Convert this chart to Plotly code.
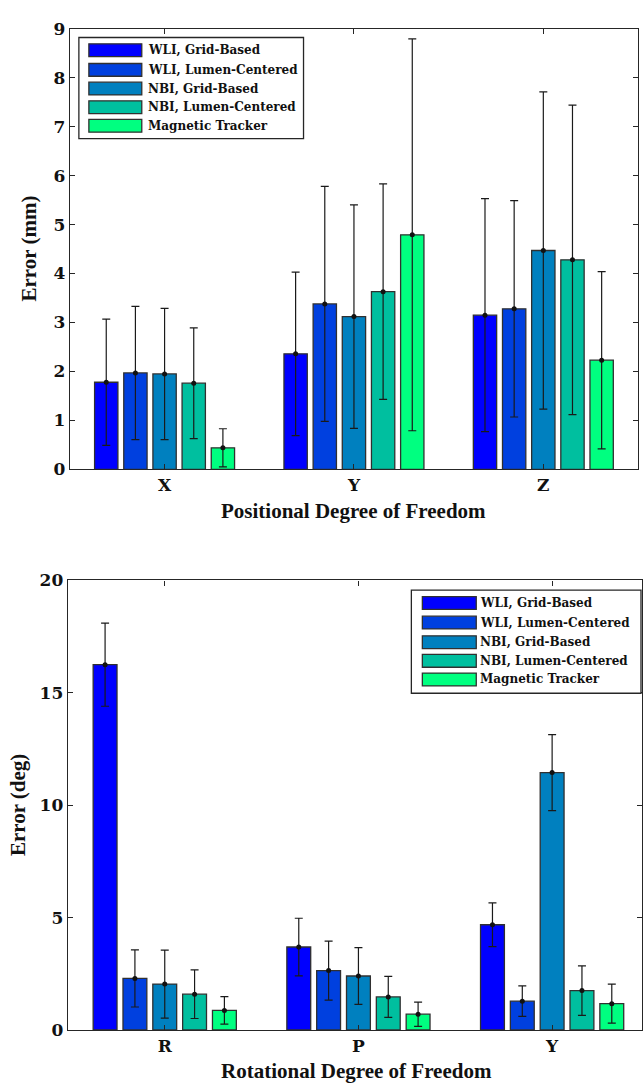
import plotly.graph_objects as go

W, H = 643, 1091

# Series shared by both panels
series = ["WLI, Grid-Based", "WLI, Lumen-Centered", "NBI, Grid-Based",
          "NBI, Lumen-Centered", "Magnetic Tracker"]
colors = ["#0000FF", "#0040DF", "#0080BF", "#00BF9F", "#00FF80"]

# Positional error (mm): mean and standard deviation per degree of freedom
pos_dof = ["X", "Y", "Z"]
pos_wli_grid = [1.78, 2.36, 3.15]
pos_wli_lumen = [1.97, 3.38, 3.28]
pos_nbi_grid = [1.95, 3.12, 4.47]
pos_nbi_lumen = [1.76, 3.63, 4.28]
pos_magnetic = [0.44, 4.79, 2.23]
pos_wli_grid_sd = [1.29, 1.67, 2.38]
pos_wli_lumen_sd = [1.36, 2.40, 2.21]
pos_nbi_grid_sd = [1.34, 2.28, 3.24]
pos_nbi_lumen_sd = [1.13, 2.20, 3.16]
pos_magnetic_sd = [0.39, 4.00, 1.81]

# Rotational error (deg)
rot_dof = ["R", "P", "Y"]
rot_wli_grid = [16.25, 3.69, 4.68]
rot_wli_lumen = [2.29, 2.64, 1.28]
rot_nbi_grid = [2.04, 2.40, 11.45]
rot_nbi_lumen = [1.59, 1.47, 1.75]
rot_magnetic = [0.87, 0.70, 1.17]
rot_wli_grid_sd = [1.85, 1.28, 0.97]
rot_wli_lumen_sd = [1.27, 1.31, 0.68]
rot_nbi_grid_sd = [1.51, 1.26, 1.69]
rot_nbi_lumen_sd = [1.08, 0.91, 1.10]
rot_magnetic_sd = [0.61, 0.54, 0.87]

pos_means = [pos_wli_grid, pos_wli_lumen, pos_nbi_grid, pos_nbi_lumen, pos_magnetic]
pos_sds = [pos_wli_grid_sd, pos_wli_lumen_sd, pos_nbi_grid_sd, pos_nbi_lumen_sd, pos_magnetic_sd]
rot_means = [rot_wli_grid, rot_wli_lumen, rot_nbi_grid, rot_nbi_lumen, rot_magnetic]
rot_sds = [rot_wli_grid_sd, rot_wli_lumen_sd, rot_nbi_grid_sd, rot_nbi_lumen_sd, rot_magnetic_sd]

SERIF = "DejaVu Serif"
TITLE_FONT = "Liberation Serif"
INK = "#262626"
GAP = 0.23

fig = go.Figure()


def add_panel(cats, means, sds, xa, ya):
    for name, col, m in zip(series, colors, means):
        fig.add_trace(go.Bar(
            x=cats, y=m, name=name, xaxis=xa, yaxis=ya, showlegend=False,
            marker=dict(color=col, line=dict(color="#303030", width=1.3)),
            hoverinfo="x+y+name",
        ))
    # mean dots with standard-deviation whiskers, grouped like the bars
    for name, m, s in zip(series, means, sds):
        fig.add_trace(go.Scatter(
            x=cats, y=m, name=name, xaxis=xa, yaxis=ya, showlegend=False,
            mode="markers", marker=dict(color="#111111", size=5),
            error_y=dict(type="data", array=s, visible=True, color="#1a1a1a",
                         thickness=1.2, width=4),
            hoverinfo="skip",
        ))


add_panel(pos_dof, pos_means, pos_sds, "x", "y")
add_panel(rot_dof, rot_means, rot_sds, "x2", "y2")


def px(x):
    return x / W


def py(y):
    return 1 - y / H


axis_common = dict(
    showline=True, linecolor=INK, linewidth=1.4, mirror="ticks",
    ticks="inside", ticklen=5, tickwidth=1.2, tickcolor=INK,
    showgrid=False, zeroline=False,
    tickfont=dict(family=SERIF, size=17, color="#111111", weight="bold"),
)

fig.update_layout(
    width=W, height=H,
    margin=dict(l=0, r=0, t=0, b=0),
    paper_bgcolor="white", plot_bgcolor="white",
    barmode="group", bargap=GAP, bargroupgap=0.2,
    scattermode="group", scattergap=GAP,
    showlegend=False,
    xaxis=dict(axis_common, domain=[px(70), px(639)], anchor="y",
               type="category", range=[-0.5, 2.5]),
    yaxis=dict(axis_common, domain=[py(468), py(19)], anchor="x",
               range=[0, 9], dtick=1),
    xaxis2=dict(axis_common, domain=[px(68), 1.0], anchor="y2",
                type="category", range=[-0.5, 2.464]),
    yaxis2=dict(axis_common, domain=[py(1039), py(581)], anchor="x2",
                range=[0, 20], dtick=5),
)

title_font = dict(family=TITLE_FONT, size=21, color="#111111", weight="bold")
titles = [
    ("Error (mm)", 29, 243, -90),
    ("Positional Degree of Freedom", 354, 510, 0),
    ("Error (deg)", 18, 810, -90),
    ("Rotational Degree of Freedom", 357, 1081, 0),
]
for text, x, y, ang in titles:
    fig.add_annotation(text=text, x=px(x), y=py(y), xref="paper", yref="paper",
                       showarrow=False, textangle=ang, font=title_font,
                       xanchor="center", yanchor="middle")


def draw_legend(box, sw_x, rows, sw_h, text_x):
    x0, y0, x1, y1 = box
    fig.add_shape(type="rect", xref="paper", yref="paper",
                  x0=px(x0), x1=px(x1), y0=py(y1), y1=py(y0),
                  line=dict(color=INK, width=1.3), fillcolor="white")
    for name, col, ry in zip(series, colors, rows):
        fig.add_shape(type="rect", xref="paper", yref="paper",
                      x0=px(sw_x[0]), x1=px(sw_x[1]),
                      y0=py(ry + sw_h / 2), y1=py(ry - sw_h / 2),
                      line=dict(color="#303030", width=1.3), fillcolor=col)
        fig.add_annotation(text=name, x=px(text_x), y=py(ry), xref="paper",
                           yref="paper", showarrow=False, xanchor="left",
                           yanchor="middle",
                           font=dict(family=SERIF, size=12, color="#111111",
                                     weight="bold"))


draw_legend((79, 28, 304, 131), (89, 142), [41, 61, 80, 99, 118], 13, 146)
draw_legend((412, 591, 642, 696), (423, 477), [604, 624, 644, 663, 682], 13, 479)

fig.write_html("out.html")
